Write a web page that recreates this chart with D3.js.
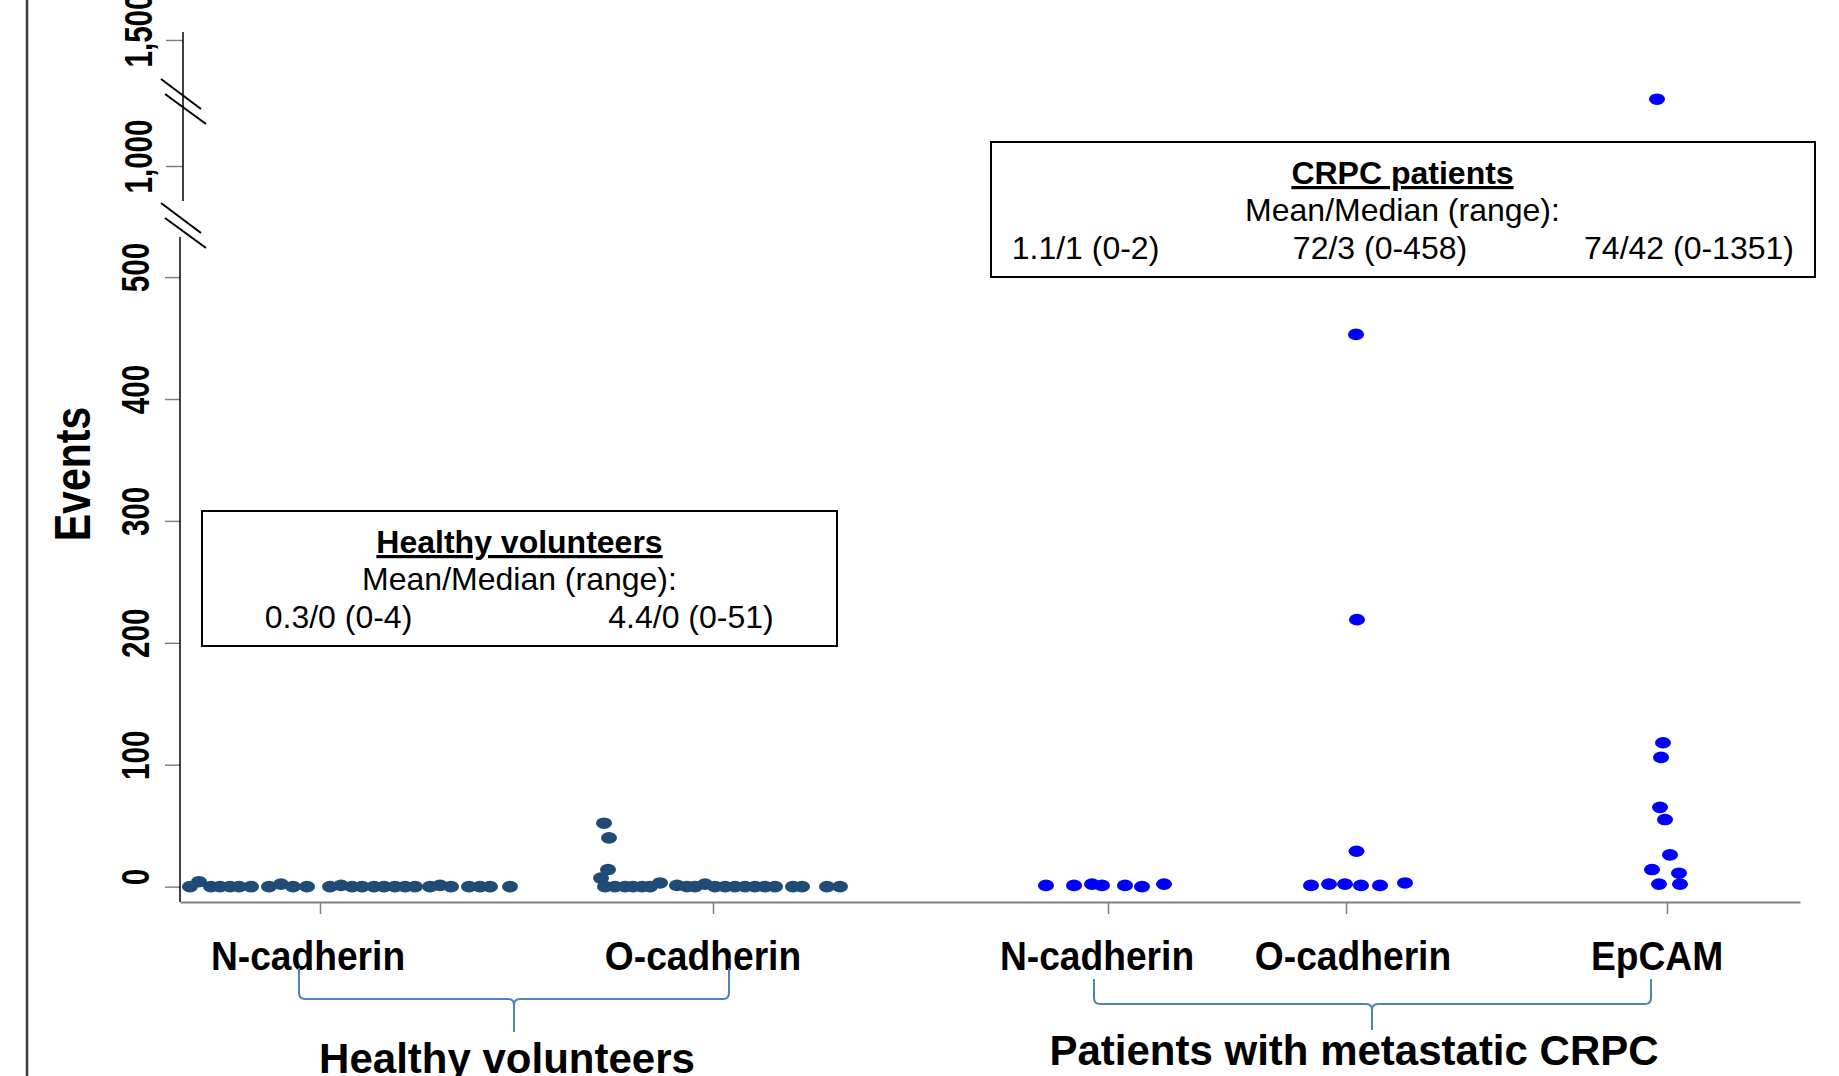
<!DOCTYPE html>
<html>
<head>
<meta charset="utf-8">
<script src="https://cdn.jsdelivr.net/npm/d3@7"></script>
<style>
  body { margin: 0; background: #fff; }
  text { font-family: "Liberation Sans", Arial, sans-serif; fill: #000; }
</style>
</head>
<body>
<div id="chart"></div>
<script>
// categories on the x axis (position in x units)
const categories = ['N-cadherin', 'O-cadherin', 'N-cadherin', 'O-cadherin', 'EpCAM'];
const cohorts = ['healthy', 'healthy', 'crpc', 'crpc', 'crpc'];
const categoryX = [14, 53.3, 92.8, 116.6, 148.7];

// events per subject + horizontal jitter (x units)
const hvNcadValues = [0, 4, 0, 0, 0, 0, 0, 0, 2, 0, 0, 0, 1, 0, 0, 0, 0, 0, 0, 0, 0, 1, 0, 0, 0, 0, 0];
const hvNcadJitter = [-13, -12.1, -10.9, -10, -9, -8.1, -6.9, -5.1, -3.9, -2.7, -1.3, 1, 2.1, 3.2, 4.2, 5.4, 6.4, 7.5, 8.5, 9.5, 11, 12, 13.1, 14.9, 16, 17, 19];

const hvOcadValues = [52, 40, 14, 7, 0, 0, 0, 0, 0, 0, 3, 1, 0, 0, 2, 0, 0, 0, 0, 0, 0, 0, 0, 0, 0, 0];
const hvOcadJitter = [-10.9, -10.4, -10.5, -11.2, -10.8, -9.8, -8.8, -8, -7.1, -6.3, -5.3, -3.6, -2.6, -1.8, -0.8, 0.2, 1.2, 2.2, 3.2, 4.2, 5.2, 6.2, 8, 8.9, 11.4, 12.7];

const crpcNcadValues = [1, 1, 2, 1, 1, 0, 2];
const crpcNcadJitter = [-6.2, -3.4, -1.6, -0.6, 1.7, 3.4, 5.6];

const crpcOcadValues = [453, 219, 29, 1, 2, 2, 1, 1, 3];
const crpcOcadJitter = [1, 1.1, 1.05, -3.5, -1.7, -0.1, 1.5, 3.4, 5.9];

const epcamValues = [1265, 118, 106, 65, 55, 26, 14, 11, 2, 2];
const epcamJitter = [-1, -0.4, -0.6, -0.7, -0.2, 0.3, -1.5, 1.2, -0.8, 1.3];

// broken y axis
const yTicksLower = [0, 100, 200, 300, 400, 500];
const yTicksUpper = [1000, 1500];

// text
const yTitle = 'Events';
const groupLabels = ['Healthy volunteers', 'Patients with metastatic CRPC'];
const healthyBoxTitle = 'Healthy volunteers';
const crpcBoxTitle = 'CRPC patients';
const boxSubtitle = 'Mean/Median (range):';
const healthySummary = ['0.3/0 (0-4)', '4.4/0 (0-51)'];
const crpcSummary = ['1.1/1 (0-2)', '72/3 (0-458)', '74/42 (0-1351)'];

const chart = (() => {
    const W = 1839, H = 1076;
    const colors = {healthy: '#1f4b76', crpc: '#0000ff'};
    let svg;

    const x = d3.scaleLinear().domain([0, 162]).range([180, 1800]);
    const yLow = d3.scaleLinear().domain([0, 500]).range([886.6, 277.1]);
    const yHigh = d3.scaleLinear().domain([1000, 1500]).range([166, 40]);
    const y = v => v >= 1000 ? yHigh(v) : yLow(v);

    const appendSVG = () => {
        svg = d3.select('#chart').append('svg')
            .attr('width', W)
            .attr('height', H);
        svg.append('rect').attr('width', W).attr('height', H).attr('fill', '#fff');
        // left frame edge
        svg.append('line')
            .attr('x1', 27).attr('x2', 27).attr('y1', 0).attr('y2', H)
            .attr('stroke', '#3a3a3a').attr('stroke-width', 2.5);
    };

    // tick labels are tall and narrow in the source figure
    const styleYAxis = (g) => {
        const sx = 0.78;
        g.select('.domain').remove();
        g.selectAll('.tick line').attr('stroke', '#808080').attr('stroke-width', 1.5);
        g.selectAll('.tick text')
            .attr('transform', `rotate(-90) scale(${sx},1)`)
            .attr('x', 10 / sx)
            .attr('y', -31)
            .attr('dy', 0)
            .attr('text-anchor', 'middle')
            .attr('font-size', 38)
            .attr('font-weight', 'bold')
            .attr('font-family', '"Liberation Sans", Arial, sans-serif')
            .attr('fill', '#000');
    };

    const drawAxes = () => {
        // lower segment 0 - 500
        const gLow = svg.append('g')
            .attr('transform', 'translate(180,0)')
            .call(d3.axisLeft(yLow).tickValues(yTicksLower).tickSize(15).tickFormat(d3.format(',')));
        styleYAxis(gLow);
        gLow.append('line').attr('y1', 237).attr('y2', 902)
            .attr('stroke', '#000').attr('stroke-width', 1.5);

        // upper segment 1000 - 1500
        const gHigh = svg.append('g')
            .attr('transform', 'translate(183,0)')
            .call(d3.axisLeft(yHigh).tickValues(yTicksUpper).tickSize(17).tickFormat(d3.format(',')));
        styleYAxis(gHigh);
        gHigh.append('line').attr('y1', 32).attr('y2', 201)
            .attr('stroke', '#000').attr('stroke-width', 1.5);

        // break marks
        [79, 203].forEach(top => {
            svg.append('path')
                .attr('d', `M161,${top}L201,${top + 30}M165,${top + 15}L206,${top + 45}`)
                .attr('stroke', '#000').attr('stroke-width', 2).attr('fill', 'none');
        });

        // x axis
        const gx = svg.append('g')
            .attr('transform', 'translate(0,902)')
            .call(d3.axisBottom(x).tickValues(categoryX).tickSize(12).tickSizeOuter(0).tickFormat(''));
        gx.select('.domain').attr('stroke', '#808080').attr('stroke-width', 2);
        gx.selectAll('.tick line').attr('stroke', '#808080').attr('stroke-width', 1.5);

        const labelDx = [-12, -10, -11, 7, -10];
        const csx = 0.93;
        svg.append('g').selectAll('text')
            .data(categories)
            .enter()
            .append('text')
            .attr('transform', (d, i) => `translate(${x(categoryX[i]) + labelDx[i]},970) scale(${csx},1)`)
            .attr('text-anchor', 'middle')
            .attr('font-size', 40)
            .attr('font-weight', 'bold')
            .text(d => d);

        svg.append('text')
            .attr('transform', 'translate(90,474) rotate(-90) scale(0.82,1)')
            .attr('text-anchor', 'middle')
            .attr('font-size', 50)
            .attr('font-weight', 'bold')
            .text(yTitle);
    };

    const drawPoints = () => {
        const series = [
            {values: hvNcadValues, jitter: hvNcadJitter, cat: 0},
            {values: hvOcadValues, jitter: hvOcadJitter, cat: 1},
            {values: crpcNcadValues, jitter: crpcNcadJitter, cat: 2},
            {values: crpcOcadValues, jitter: crpcOcadJitter, cat: 3},
            {values: epcamValues, jitter: epcamJitter, cat: 4}
        ];
        const points = series.flatMap(s => s.values.map((v, i) => ({v, dx: s.jitter[i], cat: s.cat})));

        svg.append('g').selectAll('ellipse')
            .data(points)
            .enter()
            .append('ellipse')
            .attr('cx', d => x(categoryX[d.cat] + d.dx))
            .attr('cy', d => y(d.v))
            .attr('rx', 8)
            .attr('ry', 5.8)
            .attr('fill', d => colors[cohorts[d.cat]]);
    };

    const drawBox = ({x0, y0, w, h, title, lines, cx}) => {
        const g = svg.append('g');
        g.append('rect')
            .attr('x', x0).attr('y', y0).attr('width', w).attr('height', h)
            .attr('fill', '#fff').attr('stroke', '#000').attr('stroke-width', 2);
        g.append('text')
            .attr('x', cx).attr('y', y0 + 42)
            .attr('text-anchor', 'middle')
            .attr('font-size', 32).attr('font-weight', 'bold')
            .attr('text-decoration', 'underline')
            .text(title);
        g.append('text')
            .attr('x', cx).attr('y', y0 + 79)
            .attr('text-anchor', 'middle')
            .attr('font-size', 32)
            .text(boxSubtitle);
        g.selectAll('.num')
            .data(lines)
            .enter()
            .append('text')
            .attr('x', d => d.x).attr('y', y0 + 117)
            .attr('text-anchor', 'middle')
            .attr('font-size', 32)
            .text(d => d.t);
    };

    const drawBrace = (x0, x1, cx, top, mid, tip) => {
        const r = 6;
        const d = `M${x0},${top}L${x0},${mid - r}Q${x0},${mid} ${x0 + r},${mid}L${cx - r},${mid}` +
            `Q${cx},${mid} ${cx},${mid + r}L${cx},${tip}M${cx},${mid + r}Q${cx},${mid} ${cx + r},${mid}` +
            `L${x1 - r},${mid}Q${x1},${mid} ${x1},${mid - r}L${x1},${top}`;
        svg.append('path')
            .attr('d', d)
            .attr('fill', 'none')
            .attr('stroke', '#4f81bd')
            .attr('stroke-width', 2);
    };

    const draw = () => {
        appendSVG();
        drawAxes();

        drawBox({
            x0: 202, y0: 511, w: 635, h: 135, cx: 519.5, title: healthyBoxTitle,
            lines: healthySummary.map((t, i) => ({t, x: [338.5, 691][i]}))
        });
        drawBox({
            x0: 991, y0: 142, w: 824, h: 135, cx: 1402.5, title: crpcBoxTitle,
            lines: crpcSummary.map((t, i) => ({t, x: [1085.5, 1380, 1689][i]}))
        });

        drawPoints();

        drawBrace(299, 729, 514, 968, 999, 1032);
        drawBrace(1094, 1651, 1372, 979, 1004, 1030);

        svg.append('g').selectAll('text')
            .data(groupLabels)
            .enter()
            .append('text')
            .attr('x', (d, i) => [507, 1354][i])
            .attr('y', (d, i) => [1073, 1065][i])
            .attr('text-anchor', 'middle')
            .attr('font-size', 42)
            .attr('font-weight', 'bold')
            .text(d => d);
    };

    return {draw};
})();

chart.draw();
</script>
</body>
</html>
